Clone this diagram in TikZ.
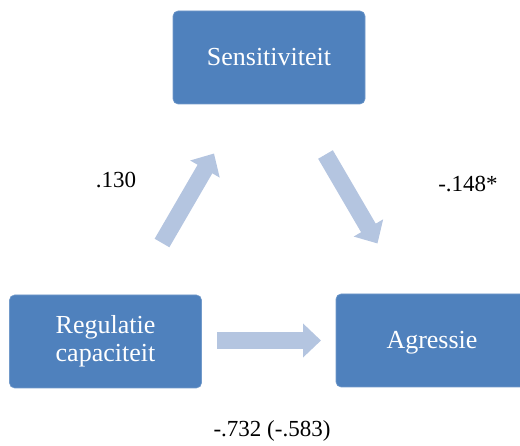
\documentclass[tikz,border=0pt]{standalone}
\usepackage{fontspec}
\setmainfont{Liberation Serif}
\usetikzlibrary{arrows.meta}
\definecolor{boxblue}{RGB}{79,129,189}
\definecolor{arrowblue}{RGB}{180,197,224}
\begin{document}
\begin{tikzpicture}[x=1pt,y=1pt,
  boxnode/.style={fill=boxblue, draw=boxblue!80!white, line width=0.6pt, rounded corners=5pt,
    minimum width=192pt, minimum height=93pt, inner sep=0pt, text=white,
    font=\fontsize{26}{28}\selectfont, align=center},
  oneline/.style={text height=20pt, text depth=4pt},
  blockarrow/.style={draw=arrowblue, line width=17pt,
    -{Triangle[width=33pt,length=18pt,fill=arrowblue]}},
  coef/.style={font=\fontsize{23}{25}\selectfont, anchor=base, inner sep=0pt}]
\useasboundingbox (0,0) rectangle (520,446);
\node[boxnode, oneline] (sens) at (269,388.5) {Sensitiviteit};
\node[boxnode] (reg) at (105.5,104.5) {Regulatie\\capaciteit};
\node[boxnode, oneline] (agr) at (432,105.5) {Agressie};
\coordinate (h1) at (217,105.5);
\coordinate (h2) at (321,105.5);
\coordinate (u1) at (162,203);
\coordinate (u2) at (214,292.5);
\coordinate (d1) at (325.5,291.5);
\coordinate (d2) at (377.5,202.5);
\draw[blockarrow] (h1) -- (h2);
\draw[blockarrow] (u1) -- (u2);
\draw[blockarrow] (d1) -- (d2);
\node[coef] (c1) at (116,258) {.130};
\node[coef] (c2) at (468,254) {-.148*};
\node[coef] (c3) at (272,9) {-.732 (-.583)};
\end{tikzpicture}
\end{document}
